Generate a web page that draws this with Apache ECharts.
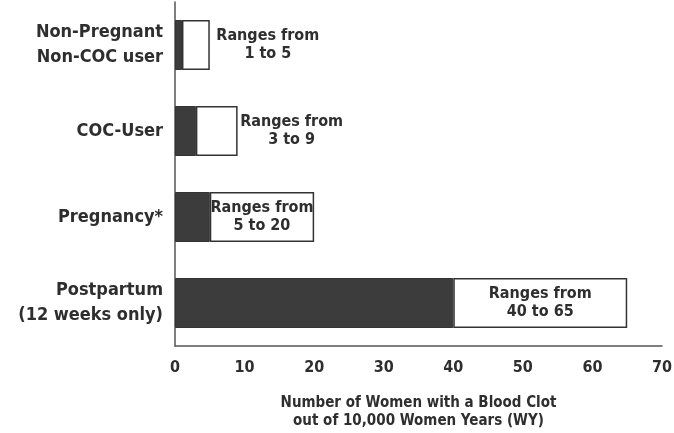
<!DOCTYPE html>
<html>
<head>
<meta charset="utf-8">
<script src="https://cdn.jsdelivr.net/npm/echarts@6/dist/echarts.min.js"></script>
<style>
  html, body { margin: 0; padding: 0; background: #fff; }
  #chart { width: 674px; height: 433px; }
</style>
</head>
<body>
<div id="chart"></div>
<script>
// groups, lowest and highest rate per 10,000 women years
var categories = ['Non-Pregnant\nNon-COC user', 'COC-User', 'Pregnancy*', 'Postpartum\n(12 weeks only)'];
var lows = [1, 3, 5, 40];
var highs = [5, 9, 20, 65];
var xTicks = [0, 10, 20, 30, 40, 50, 60, 70];

var font = '"DejaVu Sans Condensed", "Liberation Sans Narrow", sans-serif';
var ink = '#2e2e2e';

// the two small boxes get their label beside them, the wide ones inside
var labelOutside = [true, true, false, false];

var rangeData = lows.map(function (lo, i) {
    var lbl = { formatter: 'Ranges from\n' + lo + ' to ' + highs[i] };
    if (labelOutside[i]) {
        lbl.position = 'right';
        lbl.distance = 0;
        lbl.offset = [i === 0 ? 58 : 54, 0];
    } else {
        lbl.position = 'inside';
    }
    return { value: highs[i] - lo, label: lbl };
});

var myChart = echarts.init(document.getElementById('chart'));

var option = {
    animation: false,
    grid: { left: 175, right: 12, top: 2, bottom: 87, outerBoundsMode: 'none' },
    xAxis: {
        type: 'value',
        min: xTicks[0],
        max: xTicks[xTicks.length - 1],
        interval: 10,
        splitLine: { show: false },
        axisTick: { show: false },
        axisLine: { show: true, lineStyle: { color: '#555', width: 1.5 } },
        axisLabel: {
            color: ink, fontFamily: font, fontWeight: 'bold', fontSize: 16, margin: 14
        },
        name: 'Number of Women with a Blood Clot\nout of 10,000 Women Years (WY)',
        nameLocation: 'middle',
        nameGap: 48,
        nameTextStyle: {
            color: ink, fontFamily: font, fontWeight: 'bold', fontSize: 15, lineHeight: 18
        }
    },
    yAxis: {
        type: 'category',
        inverse: true,
        data: categories,
        axisTick: { show: false },
        axisLine: { show: true, lineStyle: { color: '#555', width: 1.5 } },
        axisLabel: {
            color: ink, fontFamily: font, fontWeight: 'bold', fontSize: 18,
            lineHeight: 25, margin: 12, align: 'right'
        }
    },
    series: [
        {
            name: 'low',
            type: 'bar',
            stack: 'rate',
            barWidth: 50,
            data: lows,
            itemStyle: { color: '#3c3c3c', borderColor: '#333', borderWidth: 1 }
        },
        {
            name: 'range',
            type: 'bar',
            stack: 'rate',
            barWidth: 50,
            data: rangeData,
            itemStyle: { color: '#ffffff', borderColor: '#333', borderWidth: 1.5 },
            label: {
                show: true,
                color: ink, fontFamily: font, fontWeight: 'bold', fontSize: 16,
                lineHeight: 18, align: 'center'
            }
        }
    ]
};
myChart.setOption(option);
</script>
</body>
</html>
